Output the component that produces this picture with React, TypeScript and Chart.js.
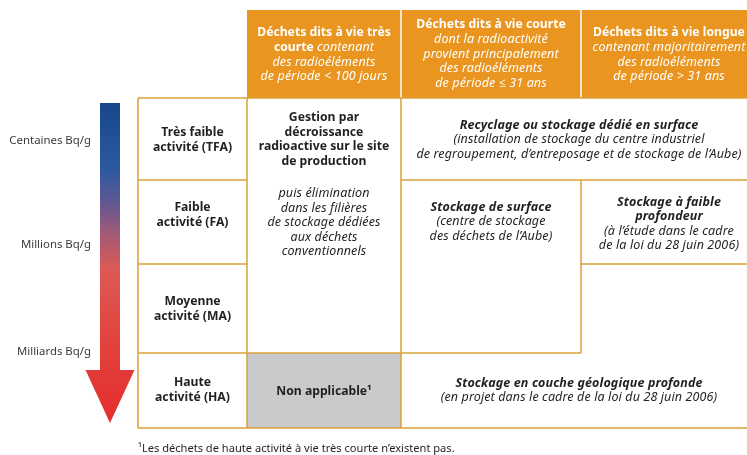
import React, { useEffect, useRef } from "react";
import { Chart, registerables } from "chart.js";

Chart.register(...registerables);

// ---------- DATA ----------
// style codes: b = bold, i = italic, bi = bold italic, r = regular
type Run = [string, string];
type Line = Run[];

const activityLevels: string[] = ["Centaines Bq/g", "Millions Bq/g", "Milliards Bq/g"];

const wasteClasses: string[][] = [
  ["Très faible", "activité (TFA)"],
  ["Faible", "activité (FA)"],
  ["Moyenne", "activité (MA)"],
  ["Haute", "activité (HA)"],
];

const lifeCategories: Line[][] = [
  [
    [["Déchets dits à vie très", "b"]],
    [["courte ", "b"], ["contenant", "i"]],
    [["des radioéléments", "i"]],
    [["de période < 100 jours", "i"]],
  ],
  [
    [["Déchets dits à vie courte", "b"]],
    [["dont la radioactivité", "i"]],
    [["provient principalement", "i"]],
    [["des radioéléments", "i"]],
    [["de période ≤ 31 ans", "i"]],
  ],
  [
    [["Déchets dits à vie longue", "b"]],
    [["contenant majoritairement", "i"]],
    [["des radioéléments", "i"]],
    [["de période > 31 ans", "i"]],
  ],
];

const veryShortLived: Line[] = [
  [["Gestion par", "b"]],
  [["décroissance", "b"]],
  [["radioactive sur le site", "b"]],
  [["de production", "b"]],
];
const veryShortLivedNote: Line[] = [
  [["puis élimination", "i"]],
  [["dans les filières", "i"]],
  [["de stockage dédiées", "i"]],
  [["aux déchets", "i"]],
  [["conventionnels", "i"]],
];
const notApplicable: Line[] = [[["Non applicable", "b"], ["¹", "b"]]];

const tfaSolution: Line[] = [
  [["Recyclage ou stockage dédié en surface", "bi"]],
  [["(installation de stockage du centre industriel", "i"]],
  [["de regroupement, d’entreposage et de stockage de l’Aube)", "i"]],
];
const faShortSolution: Line[] = [
  [["Stockage de surface", "bi"]],
  [["(centre de stockage", "i"]],
  [["des déchets de l’Aube)", "i"]],
];
const faLongSolution: Line[] = [
  [["Stockage à faible", "bi"]],
  [["profondeur", "bi"]],
  [["(à l’étude dans le cadre", "i"]],
  [["de la loi du 28 juin 2006)", "i"]],
];
const haSolution: Line[] = [
  [["Stockage en couche géologique profonde", "bi"]],
  [["(en projet dans le cadre de la loi du 28 juin 2006)", "i"]],
];

const footnote = "¹Les déchets de haute activité à vie très courte n’existent pas.";

// ---------- LAYOUT / STYLE ----------
const FONT = "'Noto Sans', 'Open Sans', sans-serif";
const ORANGE = "#e9951f";
const BORDER = "#d9a23a";
const GREY = "#c9cacc";
const INK = "#231f20";
const COLS = [138, 247, 401, 581, 757];
const ROWS = [10, 98, 180, 264, 353, 428];
const LH = 14.5;

function fontFor(style: string) {
  const bold = style.includes("b");
  const ital = style.includes("i");
  const size = ital ? 12.5 : 12.2;
  return `${ital ? "italic" : "normal"} ${bold ? "bold" : "normal"} ${size}px ${FONT}`;
}
function spacingFor(style: string) {
  return style.includes("i") ? 0.12 : 0;
}

const tablePlugin = {
  id: "tablePlugin",
  afterDraw(chart: any) {
    const ctx: any = chart.ctx;
    const xs = chart.scales.x;
    const ys = chart.scales.y;
    const X = (v: number) => xs.getPixelForValue(v);
    const Y = (v: number) => ys.getPixelForValue(v);

    const runWidth = (t: string, s: string) => {
      ctx.font = fontFor(s);
      ctx.letterSpacing = "0px";
      return ctx.measureText(t).width + spacingFor(s) * t.length;
    };

    const drawLines = (lines: Line[], cx: number, y0: number, color: string) => {
      ctx.save();
      ctx.fillStyle = color;
      ctx.textBaseline = "middle";
      ctx.textAlign = "left";
      lines.forEach((line, i) => {
        let total = 0;
        line.forEach(([t, s]) => (total += runWidth(t, s)));
        let x = X(cx) - total / 2;
        const y = Y(y0 + i * LH);
        line.forEach(([t, s]) => {
          const w = runWidth(t, s);
          ctx.font = fontFor(s);
          ctx.letterSpacing = `${spacingFor(s)}px`;
          ctx.fillText(t, x, y);
          x += w;
        });
      });
      ctx.letterSpacing = "0px";
      ctx.restore();
    };

    const rect = (x0: number, y0: number, x1: number, y1: number, fill: string) => {
      ctx.fillStyle = fill;
      ctx.fillRect(X(x0), Y(y0), X(x1) - X(x0), Y(y1) - Y(y0));
    };
    const seg = (x0: number, y0: number, x1: number, y1: number, color = BORDER, w = 1.5) => {
      ctx.strokeStyle = color;
      ctx.lineWidth = w;
      ctx.beginPath();
      ctx.moveTo(X(x0), Y(y0));
      ctx.lineTo(X(x1), Y(y1));
      ctx.stroke();
    };

    ctx.save();
    // header band
    rect(COLS[1], ROWS[0], COLS[4], ROWS[1], ORANGE);
    seg(COLS[2], ROWS[0], COLS[2], ROWS[1], "#ffffff", 1.5);
    seg(COLS[3], ROWS[0], COLS[3], ROWS[1], "#ffffff", 1.5);
    // grey cell
    rect(COLS[1], ROWS[4], COLS[2], ROWS[5], GREY);

    // borders
    seg(COLS[0], ROWS[1], COLS[4], ROWS[1]);
    seg(COLS[0], ROWS[5], COLS[4], ROWS[5]);
    seg(COLS[0], ROWS[1], COLS[0], ROWS[5]);
    seg(COLS[1], ROWS[1], COLS[1], ROWS[5]);
    seg(COLS[2], ROWS[1], COLS[2], ROWS[5]);
    seg(COLS[3], ROWS[2], COLS[3], ROWS[4]);
    seg(COLS[0], ROWS[2], COLS[1], ROWS[2]);
    seg(COLS[2], ROWS[2], COLS[4], ROWS[2]);
    seg(COLS[0], ROWS[3], COLS[1], ROWS[3]);
    seg(COLS[3], ROWS[3], COLS[4], ROWS[3]);
    seg(COLS[0], ROWS[4], COLS[3], ROWS[4]);

    // arrow
    const g = ctx.createLinearGradient(0, Y(103), 0, Y(423));
    g.addColorStop(0, "#17488a");
    g.addColorStop(0.2, "#2a58a0");
    g.addColorStop(0.3, "#5a5896");
    g.addColorStop(0.42, "#a85a72");
    g.addColorStop(0.52, "#dc5a55");
    g.addColorStop(0.75, "#e2423d");
    g.addColorStop(1, "#e52d2d");
    ctx.fillStyle = g;
    ctx.beginPath();
    ctx.moveTo(X(100), Y(103));
    ctx.lineTo(X(120), Y(103));
    ctx.lineTo(X(120), Y(370));
    ctx.lineTo(X(134.5), Y(370));
    ctx.lineTo(X(110), Y(423));
    ctx.lineTo(X(85.5), Y(370));
    ctx.lineTo(X(100), Y(370));
    ctx.closePath();
    ctx.fill();

    // activity level labels
    ctx.fillStyle = "#3a3a3a";
    ctx.font = `normal normal 11.4px ${FONT}`;
    ctx.textAlign = "right";
    ctx.textBaseline = "middle";
    const levelY = [141, 245, 352];
    activityLevels.forEach((t, i) => ctx.fillText(t, X(91), Y(levelY[i])));
    ctx.restore();

    // headers
    const headCx = [324, 491, 669];
    const headY = [33, 25, 33];
    lifeCategories.forEach((lines, i) => drawLines(lines, headCx[i], headY[i], "#ffffff"));

    // row labels
    const rowY = [133, 208, 302, 383];
    wasteClasses.forEach((l, i) => drawLines(l.map((t) => [[t, "b"]] as Line), 192.5, rowY[i], INK));

    drawLines(veryShortLived, 324, 118, INK);
    drawLines(veryShortLivedNote, 324, 193.5, INK);
    drawLines(notApplicable, 324, 392, INK);
    drawLines(tfaSolution, 579, 125, INK);
    drawLines(faShortSolution, 491, 207, INK);
    drawLines(faLongSolution, 669, 202, INK);
    drawLines(haSolution, 579, 383, INK);

    ctx.save();
    ctx.fillStyle = INK;
    ctx.font = `normal normal 11.1px ${FONT}`;
    ctx.textAlign = "left";
    ctx.textBaseline = "middle";
    ctx.fillText(footnote, X(138), Y(449));
    ctx.restore();
  },
};

export default function App() {
  const ref = useRef<HTMLCanvasElement>(null);
  useEffect(() => {
    document.body.style.margin = "0";
    const chart = new Chart(ref.current as HTMLCanvasElement, {
      type: "scatter",
      data: { datasets: [{ data: [] }] },
      options: {
        animation: false,
        responsive: false,
        maintainAspectRatio: false,
        layout: { padding: 0 },
        plugins: { legend: { display: false }, tooltip: { enabled: false } },
        scales: {
          x: { type: "linear", min: 0, max: 747, display: false },
          y: { type: "linear", min: 0, max: 455, reverse: true, display: false },
        },
      },
      plugins: [tablePlugin],
    });
    return () => chart.destroy();
  }, []);
  return (
    <div style={{ width: 747, height: 455, background: "#ffffff" }}>
      <canvas ref={ref} width={747} height={455} />
    </div>
  );
}
